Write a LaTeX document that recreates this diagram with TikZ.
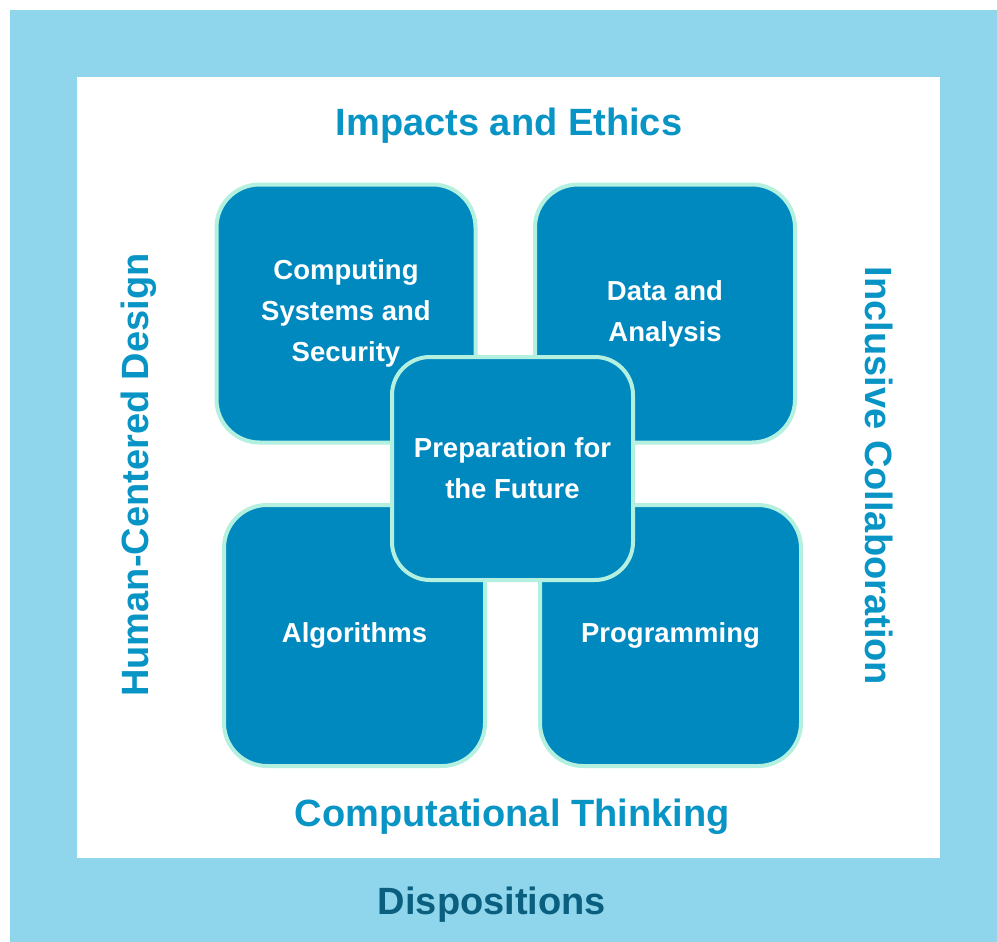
\documentclass[tikz,border=0pt]{standalone}
\usepackage{fontspec}
\setmainfont{Liberation Sans}
\usepackage{tikz}
\usetikzlibrary{positioning}
\definecolor{framebg}{HTML}{8FD6EC}
\definecolor{boxblue}{HTML}{0089BF}
\definecolor{mint}{HTML}{B3F0E0}
\definecolor{headblue}{HTML}{0894C4}
\definecolor{dispblue}{HTML}{0A5F7F}
\tikzset{
   area/.style={draw=mint, line width=4pt, fill=boxblue, rounded corners=43pt,
                text=white, align=center, inner sep=0pt,
                font=\bfseries\fontsize{27.5}{41}\selectfont},
   heading/.style={text=headblue, inner sep=0pt, font=\bfseries\fontsize{38}{46}\selectfont}
}

\begin{document}
\begin{tikzpicture}[x=1pt,y=-1pt]
  \useasboundingbox (0,0) rectangle (997,942);
  \fill[white] (0,0) rectangle (997,942);
  \fill[framebg] (10,10) rectangle (997,942);
  \fill[white] (77,77) rectangle (940,858);
  \node[area, minimum width=259pt, minimum height=258pt] (cs) at (346,313.5) {Computing\\Systems and\\Security};
  \node[area, minimum width=260pt, minimum height=258pt] (da) at (665,313.5) {Data and\\Analysis};
  \node[area, minimum width=261pt, minimum height=261pt] (alg) at (354.5,635.5) {Algorithms};
  \node[area, minimum width=261pt, minimum height=261pt] (prog) at (670.5,635.5) {Programming};
  \node[area, rounded corners=38pt, minimum width=241pt, minimum height=223pt] (prep) at (512.5,468.5) {Preparation for\\the Future};
  \node[heading] (impacts) at (509,126) {Impacts and Ethics};
  \node[heading] (ct) at (512,817) {Computational Thinking};
  \node[heading, rotate=90] (hcd) at (139,475) {Human-Centered Design};
  \node[heading, rotate=-90] (incl) at (879,476) {Inclusive Collaboration};
  \node[heading, text=dispblue] (disp) at (492,905) {Dispositions};
\end{tikzpicture}
\end{document}
